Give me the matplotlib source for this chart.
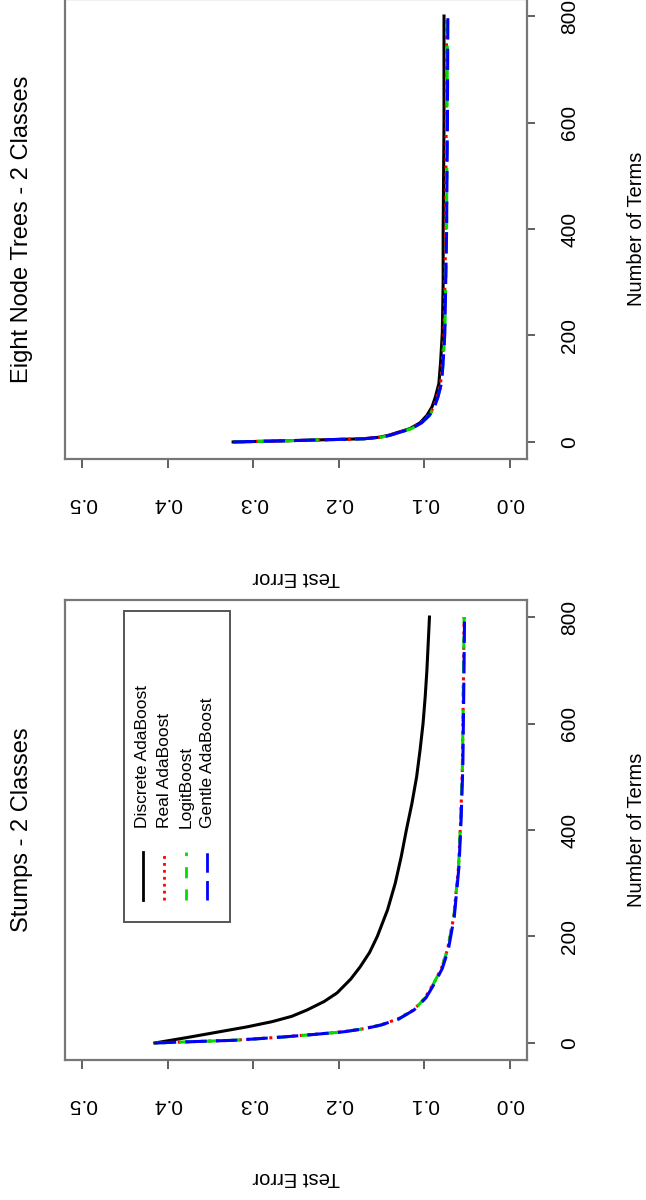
import matplotlib
matplotlib.use('Agg')
import matplotlib.pyplot as plt

plt.rcParams['font.family'] = ['Liberation Sans', 'DejaVu Sans']

methods = ['Discrete AdaBoost', 'Real AdaBoost', 'LogitBoost', 'Gentle AdaBoost']
colors = ['black', 'red', '#00dd00', 'blue']
styles = ['-', (0, (1, 1.5)), (0, (4, 4)), (0, (7, 3))]

error_ticks = [0.0, 0.1, 0.2, 0.3, 0.4, 0.5]
term_ticks = [0, 200, 400, 600, 800]

# Stumps - 2 classes
stump_terms_discrete = [0, 10, 20, 30, 40, 50, 62, 78, 94, 120, 143, 170, 200, 250, 300, 350,
                        400, 450, 500, 550, 600, 650, 700, 750, 800]
stump_err_discrete = [0.415, 0.378, 0.343, 0.308, 0.278, 0.255, 0.237, 0.217, 0.202, 0.186, 0.175,
                      0.164, 0.155, 0.143, 0.134, 0.127, 0.121, 0.1145, 0.109, 0.105, 0.1015,
                      0.099, 0.097, 0.0955, 0.094]
stump_terms = [0, 3, 5, 8, 11, 16, 21, 27, 34, 45, 62, 85, 112, 140, 175, 237, 331, 420, 519, 650, 800]
stump_err_real = [0.415, 0.362, 0.324, 0.295, 0.268, 0.230, 0.195, 0.170, 0.151, 0.131, 0.1125, 0.099,
                  0.089, 0.080, 0.073, 0.0656, 0.060, 0.0575, 0.0555, 0.0545, 0.0535]
stump_err_logit = [0.415, 0.360, 0.322, 0.294, 0.267, 0.229, 0.194, 0.169, 0.150, 0.130, 0.112, 0.099,
                   0.089, 0.080, 0.073, 0.0655, 0.060, 0.0575, 0.0555, 0.0545, 0.0535]
stump_err_gentle = [0.415, 0.361, 0.323, 0.294, 0.267, 0.229, 0.194, 0.169, 0.150, 0.130, 0.112, 0.098,
                    0.088, 0.079, 0.072, 0.0650, 0.0595, 0.057, 0.055, 0.054, 0.053]

# Eight node trees - 2 classes
tree_terms = [0, 2, 4, 6, 9, 13, 17, 25, 36, 50, 66, 85, 110, 150, 205, 300, 393, 600, 800]
tree_err_discrete = [0.3235, 0.268, 0.220, 0.172, 0.152, 0.141, 0.133, 0.117, 0.105, 0.097, 0.091,
                     0.087, 0.083, 0.081, 0.079, 0.078, 0.078, 0.077, 0.077]
tree_err_real = [0.3235, 0.268, 0.220, 0.171, 0.151, 0.140, 0.132, 0.116, 0.104, 0.095, 0.089,
                 0.085, 0.081, 0.079, 0.077, 0.076, 0.075, 0.0745, 0.074]
tree_err_logit = [0.3235, 0.267, 0.219, 0.170, 0.150, 0.139, 0.131, 0.115, 0.103, 0.094, 0.088,
                  0.084, 0.080, 0.078, 0.076, 0.075, 0.074, 0.0735, 0.073]
tree_err_gentle = [0.3235, 0.268, 0.219, 0.171, 0.150, 0.139, 0.131, 0.115, 0.103, 0.094, 0.088,
                   0.084, 0.080, 0.078, 0.076, 0.075, 0.074, 0.073, 0.0725]

panels = [
    ('Eight Node Trees - 2 Classes',
     [tree_terms] * 4,
     [tree_err_discrete, tree_err_real, tree_err_logit, tree_err_gentle]),
    ('Stumps - 2 Classes',
     [stump_terms_discrete, stump_terms, stump_terms, stump_terms],
     [stump_err_discrete, stump_err_real, stump_err_logit, stump_err_gentle]),
]

W, H = 646, 1200
fig = plt.figure(figsize=(W / 100, H / 100), dpi=100)

# pixel boxes (left, top, right, bottom) of each rotated panel
boxes = [(65, -1, 527, 459), (65, 600, 527, 1060)]

for (title, terms, errs), (l, t, r, b) in zip(panels, boxes):
    ax = fig.add_axes([l / W, 1 - b / H, (r - l) / W, (b - t) / H])
    for tt, ee, c, s in zip(terms, errs, colors, styles):
        ax.plot(ee, tt, color=c, linestyle=s, lw=2.2, solid_joinstyle='round')
    ax.set_xlim(0.52, -0.02)
    ax.set_ylim(-32, 832)
    ax.set_xticks(error_ticks)
    ax.set_xticklabels([f'{v:.1f}' for v in error_ticks], rotation=180, fontsize=15)
    ax.yaxis.tick_right()
    ax.set_yticks(term_ticks)
    ax.set_yticklabels([str(v) for v in term_ticks], rotation=90, va='center', fontsize=15)
    ax.tick_params(axis='x', length=6.5, width=1.2, pad=19, colors='#444444', labelcolor='black')
    ax.tick_params(axis='y', length=6, width=1.2, pad=18, colors='#444444', labelcolor='black')
    for sp in ax.spines.values():
        sp.set_color('#777777')
        sp.set_linewidth(1.6)

    cy = 1 - (t + b) / 2 / H
    fig.text(22 / W, cy, title, rotation=90, ha='center', va='center', fontsize=17)
    fig.text(637 / W, cy, 'Number of Terms', rotation=90, ha='center', va='center', fontsize=14.5)
    fig.text((l + r) / 2 / W, 1 - (b + 118) / H, 'Test Error', rotation=180,
             ha='center', va='center', fontsize=14.5)

    if title.startswith('Stumps'):
        # hand-built legend, rotated like the rest of the page
        ax.add_patch(plt.Rectangle((0.1277, 0.30), 0.2294, 0.676, transform=ax.transAxes,
                                   fill=False, edgecolor='#555555', lw=1.4))
        xs = [0.1688, 0.2143, 0.2619, 0.3074]
        for x, name, c, s in zip(xs, methods, colors, styles):
            ax.plot([x, x], [0.348, 0.452], transform=ax.transAxes, color=c,
                    linestyle=s, lw=2.0)
            ax.text(x, 0.504, name, transform=ax.transAxes, rotation=90,
                    ha='center', va='bottom', fontsize=12.5)

fig.savefig('out.png', dpi=100)
